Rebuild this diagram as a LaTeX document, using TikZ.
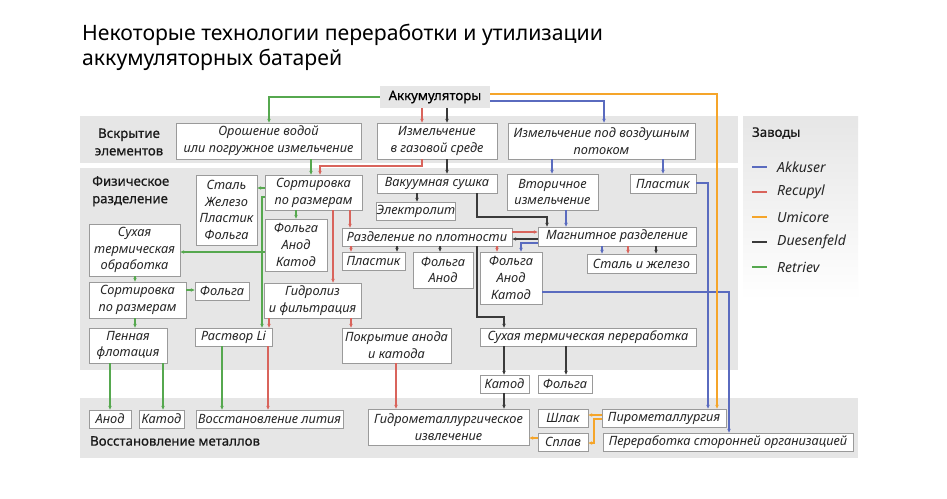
\documentclass[tikz,border=0pt]{standalone}
\usepackage{fontspec}
\setmainfont{Noto Sans}
\newfontfamily\medfont[FakeBold=0.6]{Noto Sans}
\usetikzlibrary{arrows.meta}
\definecolor{cblue}{HTML}{5A6BBF}
\definecolor{cred}{HTML}{D9645C}
\definecolor{corange}{HTML}{F5A52A}
\definecolor{cblack}{HTML}{3A3A3A}
\definecolor{cgreen}{HTML}{56A84F}
\definecolor{bandgray}{HTML}{E6E6E6}
\definecolor{boxline}{HTML}{9A9A9A}
\newcommand\bxfont{\itshape\fontsize{12.8}{16.8}\selectfont}
\newcommand\mkbox[6]{\node[box, minimum width={(#4-#2)*1pt}, minimum height={(#5-#3)*1pt}] (#1) at ({(#2+#4)/2},{(#3+#5)/2}) {#6};}
\tikzset{
  box/.style={draw=boxline, fill=white, line width=0.8pt, inner sep=0pt, font=\bxfont, align=center, text=black!85},
  band/.style={fill=bandgray, draw=none},
  arr/.style={-{Stealth[length=3.8pt,width=3.4pt]}, line width=1.1pt},
  cb/.style={arr, draw=cblue},
  cr/.style={arr, draw=cred},
  co/.style={arr, draw=corange},
  ck/.style={arr, draw=cblack},
  cg/.style={arr, draw=cgreen},
  bandlabel/.style={font=\medfont\fontsize{13.2}{17.5}\selectfont, text=black!90, inner sep=0pt},
  legline/.style={line width=1.8pt},
  legtext/.style={font=\itshape\fontsize{14}{16}\selectfont, anchor=west, inner sep=0pt, text=black!85}
}
\begin{document}
\begin{tikzpicture}[x=1pt,y=-1pt]
\useasboundingbox[fill=white] (0,0) rectangle (947,498);
% title
\node[anchor=base west, inner sep=0pt, font=\fontsize{21.2}{25}\selectfont] (title1) at (82,40) {Некоторые технологии переработки и утилизации};
\node[anchor=base west, inner sep=0pt, font=\fontsize{21.2}{25}\selectfont] (title2) at (82,65) {аккумуляторных батарей};
% bands
\fill[band] (80,116) rectangle (738,163);
\fill[band] (80,168) rectangle (738,370);
\fill[band] (80,398) rectangle (858,458);
\shade[top color=bandgray, bottom color=white] (743,116) rectangle (858,300);
\node[bandlabel, align=center] (lab1) at (129,142) {Вскрытие\\элементов};
\node[bandlabel, align=left, anchor=north west] (lab2) at (92,176) {Физическое\\разделение};
\node[bandlabel, anchor=west] (lab3) at (90,441) {Восстановление металлов};
% legend
\node[bandlabel, anchor=west] (legt) at (752,133) {Заводы};
\coordinate (l1a) at (752,167); \coordinate (l1b) at (767,167);
\coordinate (l2a) at (752,192); \coordinate (l2b) at (767,192);
\coordinate (l3a) at (752,217); \coordinate (l3b) at (767,217);
\coordinate (l4a) at (752,242); \coordinate (l4b) at (767,242);
\coordinate (l5a) at (752,267); \coordinate (l5b) at (767,267);
\draw[legline, cblue] (l1a) -- (l1b);
\draw[legline, cred] (l2a) -- (l2b);
\draw[legline, corange] (l3a) -- (l3b);
\draw[legline, cblack] (l4a) -- (l4b);
\draw[legline, cgreen] (l5a) -- (l5b);
\node[legtext] (lt1) at (777,167) {Akkuser};
\node[legtext] (lt2) at (777,192) {Recupyl};
\node[legtext] (lt3) at (777,217) {Umicore};
\node[legtext] (lt4) at (777,242) {Duesenfeld};
\node[legtext] (lt5) at (777,267) {Retriev};
% top node
\node[fill=bandgray, minimum width=110pt, minimum height=22pt, inner sep=0pt, font=\medfont\fontsize{13.2}{15}\selectfont] (akk) at (435,97) {Аккумуляторы};
% band 1
\mkbox{A1}{176}{123}{361}{159}{Орошение водой\\или погружное измельчение}
\mkbox{A2}{377}{123}{497}{159}{Измельчение\\в газовой среде}
\mkbox{A3}{508}{123}{695}{159}{Измельчение под воздушным\\потоком}
% band 2
\mkbox{sort}{265}{175}{362}{210}{Сортировка\\по размерам}
\mkbox{steel}{196}{175}{257}{245}{Сталь\\Железо\\Пластик\\Фольга}
\mkbox{fak}{265}{219}{327}{271}{Фольга\\Анод\\Катод}
\mkbox{dry}{89}{224}{180}{276}{Сухая\\термическая\\обработка}
\mkbox{sort2}{89}{282}{186}{318}{Сортировка\\по размерам}
\mkbox{folga}{195}{282}{249}{300}{Фольга}
\mkbox{foam}{89}{328}{167}{363}{Пенная\\флотация}
\mkbox{li}{195}{328}{272}{346}{Раствор Li}
\mkbox{hyd}{264}{283}{361}{318}{Гидролиз\\и фильтрация}
\mkbox{coat}{342}{328}{451}{363}{Покрытие анода\\и катода}
\mkbox{vac}{377}{174}{497}{193}{Вакуумная сушка}
\mkbox{elec}{377}{202}{455}{220}{Электролит}
\mkbox{sec}{507}{174}{598}{210}{Вторичное\\измельчение}
\mkbox{plast1}{630}{174}{696}{193}{Пластик}
\mkbox{dens}{342}{228}{512}{246}{Разделение по плотности}
\mkbox{mag}{538}{227}{696}{246}{Магнитное разделение}
\mkbox{plast2}{342}{252}{405}{270}{Пластик}
\mkbox{fa}{413}{252}{473}{288}{Фольга\\Анод}
\mkbox{fak2}{480}{252}{542}{304}{Фольга\\Анод\\Катод}
\mkbox{steel2}{587}{254}{696}{273}{Сталь и железо}
\mkbox{dryproc}{480}{328}{696}{346}{Сухая термическая переработка}
% between
\mkbox{katC}{480}{375}{529}{393}{Катод}
\mkbox{folgaC}{538}{375}{592}{393}{Фольга}
% band 3
\mkbox{anod}{89}{410}{131}{428}{Анод}
\mkbox{katD}{139}{410}{184}{428}{Катод}
\mkbox{liD}{196}{410}{343}{428}{Восстановление лития}
\mkbox{hydro}{368}{409}{529}{445}{Гидрометаллургическое\\извлечение}
\mkbox{shlak}{538}{409}{588}{427}{Шлак}
\mkbox{splav}{538}{433}{588}{451}{Сплав}
\mkbox{pyro}{602}{409}{726}{427}{Пирометаллургия}
\mkbox{third}{603}{433}{853}{451}{Переработка сторонней организацией}
% green (Retriev)
\draw[cg] (akk.west |- 0,97) -- (269,97) -- (269,0 |- A1.north);
\draw[cg] (311,0 |- A1.south) -- (311,0 |- sort.north);
\draw[cg] (sort.west |- 0,188) -- (steel.east |- 0,188);
\draw[cg] (296,0 |- sort.south) -- (296,0 |- fak.north);
\draw[cg] (sort.west |- 0,197) -- (262,197) -- (262,0 |- li.north);
\draw[cg] (fak.west |- 0,252) -- (dry.east |- 0,252);
\draw[cg] (135,0 |- dry.south) -- (135,0 |- sort2.north);
\draw[cg] (sort2.east |- 0,290) -- (folga.west |- 0,290);
\draw[cg] (135,0 |- sort2.south) -- (135,0 |- foam.north);
\draw[cg] (110,0 |- foam.south) -- (110,0 |- anod.north);
\draw[cg] (163,0 |- foam.south) -- (163,0 |- katD.north);
\draw[cg] (222,0 |- li.south) -- (222,0 |- liD.north);
% red (Recupyl)
\draw[cr] (422,0 |- akk.south) -- (422,0 |- A2.north);
\draw[cr] (422,0 |- A2.south) -- (422,166) -- (320,166) -- (320,0 |- sort.north);
\draw[cr] (350,0 |- sort.south) -- (350,0 |- dens.north);
\draw[cr] (333,0 |- sort.south) -- (333,0 |- hyd.north);
\draw[cr] (351,0 |- dens.south) -- (351,0 |- plast2.north);
\draw[cr] (dens.east |- 0,232) -- (mag.west |- 0,232);
\draw[cr] (497,0 |- dens.south) -- (497,0 |- fak2.north);
\draw[cr] (628,0 |- mag.south) -- (628,0 |- steel2.north);
\draw[cr] (269,0 |- hyd.south) -- (269,0 |- li.north);
\draw[cr] (351,0 |- hyd.south) -- (351,0 |- coat.north);
\draw[cr] (268,0 |- li.south) -- (268,0 |- liD.north);
\draw[cr] (396,0 |- coat.south) -- (396,0 |- hydro.north);
% black (Duesenfeld)
\draw[ck] (447,0 |- akk.south) -- (447,0 |- A2.north);
\draw[ck] (447,0 |- A2.south) -- (447,0 |- vac.north);
\draw[ck] (417,0 |- vac.south) -- (417,0 |- elec.north);
\draw[ck] (477,0 |- vac.south) -- (477,217) -- (547,217) -- (547,0 |- mag.north);
\draw[ck] (mag.west |- 0,239) -- (dens.east |- 0,239);
\draw[ck] (397,0 |- dens.south) -- (397,0 |- plast2.north);
\draw[ck] (440,0 |- dens.south) -- (440,0 |- fa.north);
\draw[ck] (477,0 |- dens.south) -- (477,317) -- (504,317) -- (504,0 |- dryproc.north);
\draw[ck] (656,0 |- mag.south) -- (656,0 |- steel2.north);
\draw[ck] (504,0 |- dryproc.south) -- (504,0 |- katC.north);
\draw[ck] (566,0 |- dryproc.south) -- (566,0 |- folgaC.north);
\draw[ck] (504,0 |- katC.south) -- (504,0 |- hydro.north);
% blue (Akkuser)
\draw[cb] (akk.east |- 0,101) -- (604,101) -- (604,0 |- A3.north);
\draw[cb] (552,0 |- A3.south) -- (552,0 |- sec.north);
\draw[cb] (663,0 |- A3.south) -- (663,0 |- plast1.north);
\draw[cb] (566,0 |- sec.south) -- (566,0 |- mag.north);
\draw[cb] (mag.west |- 0,243) -- (521,243) -- (521,0 |- fak2.north);
\draw[cb] (602,0 |- mag.south) -- (602,0 |- steel2.north);
\draw[cb] (plast1.east |- 0,183) -- (708,183) -- (708,0 |- pyro.north);
\draw[cb] (fak2.east |- 0,292) -- (729,292) -- (729,0 |- third.north);
% orange (Umicore)
\draw[co] (akk.east |- 0,94) -- (717,94) -- (717,0 |- pyro.north);
\draw[co] (pyro.west |- 0,415) -- (shlak.east |- 0,415);
\draw[co] (pyro.west |- 0,419) -- (594,419) -- (594,443) -- (splav.east |- 0,443);
\draw[co] (splav.west |- 0,438) -- (hydro.east |- 0,438);
\end{tikzpicture}
\end{document}
